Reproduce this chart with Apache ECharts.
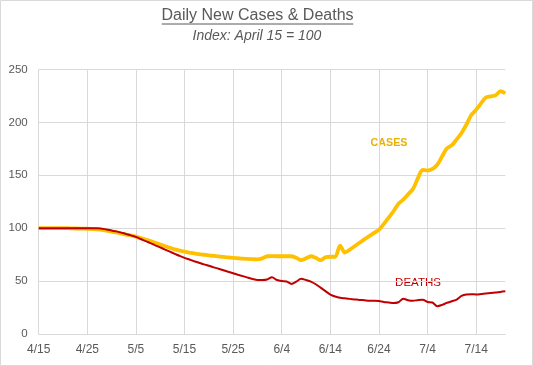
<!DOCTYPE html>
<html>
<head>
<meta charset="utf-8">
<script src="https://cdn.jsdelivr.net/npm/echarts@6/dist/echarts.min.js"></script>
<style>
html,body{margin:0;padding:0;background:#fff;}
#chart{width:533px;height:366px;}
</style>
</head>
<body>
<div id="chart"></div>
<script>
var categories = [
 '4/15','4/16','4/17','4/18','4/19','4/20','4/21','4/22','4/23','4/24','4/25','4/26','4/27','4/28','4/29','4/30',
 '5/1','5/2','5/3','5/4','5/5','5/6','5/7','5/8','5/9','5/10','5/11','5/12','5/13','5/14','5/15','5/16','5/17','5/18','5/19','5/20','5/21','5/22','5/23','5/24','5/25','5/26','5/27','5/28','5/29','5/30','5/31',
 '6/1','6/2','6/3','6/4','6/5','6/6','6/7','6/8','6/9','6/10','6/11','6/12','6/13','6/14','6/15','6/16','6/17','6/18','6/19','6/20','6/21','6/22','6/23','6/24','6/25','6/26','6/27','6/28','6/29','6/30',
 '7/1','7/2','7/3','7/4','7/5','7/6','7/7','7/8','7/9','7/10','7/11','7/12','7/13','7/14','7/15','7/16','7/17','7/18','7/19','7/20'
];
var cases = [
 100,100,100,100,100,100,100,99.8,99.7,99.6,
 99.5,99.2,98.9,98.4,97.6,96.7,96,95,94,93.1,
 92,90.6,89.2,87.8,86.2,84.6,83,81.5,80,78.8,
 77.8,77,76.2,75.5,74.9,74.3,73.8,73.3,72.8,72.4,
 72,71.6,71.2,71,70.7,70.5,71.5,73.5,73.6,73.5,
 73.5,73.5,73.5,72,69.8,71.5,73.5,72,69.8,72.5,
 73,73,83.5,77,79.8,83,86.2,89.4,92.5,95.5,
 98.5,104,110,116,123,127,132,137,147,155,
 154.5,156,160,168,175.5,178.5,184,190,198,207,
 212,218,223.5,224.5,225.5,229.5,227.5
];
var deaths = [
 100,100,100,100,100,100,100,100,100,100,
 100,100,100,99.5,98.8,97.8,97,95.8,94.5,93.2,
 91.8,89.8,87.8,85.9,83.8,81.8,79.8,77.8,75.8,73.8,
 72,70.4,68.8,67.3,65.8,64.5,63,61.7,60.3,58.8,
 57.4,56,54.7,53.3,52,51,51,51.5,53.6,51,
 50,49.7,47.3,49.5,52.2,51,49.5,47,43.8,40.5,
 37.3,35.5,34.3,33.7,33.2,32.7,32.2,31.9,31.5,31.5,
 31.2,30.3,29.8,29.2,30,33.3,32,31.5,32,32.3,
 30.3,29.8,26.3,27.5,29.5,31,32.5,36,37.4,37.6,
 37.4,37.8,38.3,38.7,39.2,39.8,40.3
];
var yTicks = [0, 50, 100, 150, 200, 250];

var chart = echarts.init(document.getElementById('chart'), null, {renderer: 'canvas'});
var font = '"Liberation Sans", Arial, sans-serif';
chart.setOption({
  animation: false,
  backgroundColor: '#ffffff',
  grid: {left: 38.7, right: 27.7, top: 69.5, bottom: 32},
  xAxis: {
    type: 'category',
    data: categories,
    boundaryGap: false,
    axisLine: {show: true, lineStyle: {color: '#d9d9d9', width: 1}},
    axisTick: {show: false},
    axisLabel: {interval: 9, color: '#595959', fontSize: 12, fontFamily: font, margin: 10},
    splitLine: {show: true, interval: 9, lineStyle: {color: '#d9d9d9', width: 1}}
  },
  yAxis: {
    type: 'value',
    min: yTicks[0],
    max: yTicks[yTicks.length - 1],
    interval: 50,
    axisLine: {show: false},
    axisTick: {show: false},
    axisLabel: {color: '#595959', fontSize: 11.5, fontFamily: font, margin: 11},
    splitLine: {show: true, lineStyle: {color: '#d9d9d9', width: 1}}
  },
  series: [
    {name: 'CASES', type: 'line', data: cases, smooth: 0.3, showSymbol: false,
     lineStyle: {color: '#FFC000', width: 3.8}, z: 3},
    {name: 'DEATHS', type: 'line', data: deaths, smooth: 0.3, showSymbol: false,
     lineStyle: {color: '#C00000', width: 2}, z: 4}
  ],
  graphic: [
    {type: 'rect', shape: {x: 0.5, y: 0.5, width: 532, height: 365},
     style: {fill: 'none', stroke: '#d9d9d9', lineWidth: 1}, silent: true},
    {type: 'text', x: 257.5, y: 16,
     style: {text: 'Daily New Cases & Deaths', fill: '#595959', font: '16px ' + font,
             textAlign: 'center', textVerticalAlign: 'middle'}},
    {type: 'line', shape: {x1: 161.7, y1: 24, x2: 353.3, y2: 24},
     style: {stroke: '#595959', lineWidth: 1}},
    {type: 'text', x: 257, y: 36,
     style: {text: 'Index: April 15 = 100', fill: '#595959', font: 'italic 14px ' + font,
             textAlign: 'center', textVerticalAlign: 'middle'}},
    {type: 'text', x: 389, y: 143,
     style: {text: 'CASES', fill: '#EDB000', font: 'bold 10.7px ' + font,
             textAlign: 'center', textVerticalAlign: 'middle'}},
    {type: 'text', x: 418, y: 282.5,
     style: {text: 'DEATHS', fill: '#C00000', font: '11.5px ' + font,
             textAlign: 'center', textVerticalAlign: 'middle'}}
  ]
});
</script>
</body>
</html>
